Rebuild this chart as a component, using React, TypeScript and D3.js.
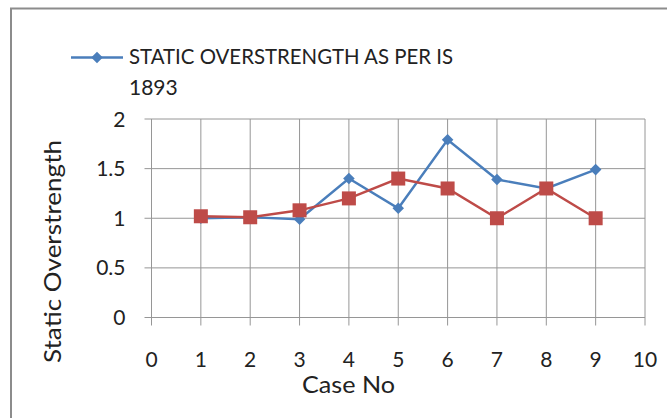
import React from "react";
import * as d3 from "d3";

const cases = [1, 2, 3, 4, 5, 6, 7, 8, 9];
const staticIS1893 = [1.0, 1.01, 0.99, 1.4, 1.1, 1.79, 1.39, 1.3, 1.49];
const secondSeries = [1.02, 1.01, 1.08, 1.2, 1.4, 1.3, 1.0, 1.3, 1.0];
const xTicks = [0, 1, 2, 3, 4, 5, 6, 7, 8, 9, 10];
const yTicks = [0, 0.5, 1, 1.5, 2];
const legendLabel = ["STATIC OVERSTRENGTH AS PER IS", "1893"];

const FONT = "Lato, 'Open Sans', sans-serif";

export default function App() {
  const W = 667, H = 418;
  const x = d3.scaleLinear().domain([0, 10]).range([151.5, 645]);
  const y = d3.scaleLinear().domain([0, 2]).range([317.5, 119]);
  const line = d3.line<number>().x((_, i) => x(cases[i])).y((d) => y(d));
  const blue = "#4a7ebb";
  const red = "#be4b48";
  const diamond = d3.symbol().type(d3.symbolDiamond2 || d3.symbolDiamond).size(85)();
  return (
    <svg width={W} height={H} style={{ position: "absolute", left: 0, top: 0 }}>
      <rect x={0} y={0} width={W} height={H} fill="white" />
      <rect x={11} y={8.5} width={700} height={450} fill="white" stroke="#8c8c8c" strokeWidth={2} />
      {/* grid */}
      {yTicks.map((t) => (
        <line key={"gy" + t} x1={x(0) - 7} x2={x(10)} y1={y(t)} y2={y(t)} stroke="#969696" strokeWidth={1} />
      ))}
      {xTicks.map((t) => (
        <line key={"gx" + t} x1={x(t)} x2={x(t)} y1={y(2)} y2={y(0) + 8} stroke="#969696" strokeWidth={1} />
      ))}
      {yTicks.map((t) => (
        <text key={"ly" + t} x={125.5} y={y(t)} dy="0.36em" textAnchor="end" fontFamily={FONT} fontSize={21} fill="#222">
          {d3.format("~g")(t)}
        </text>
      ))}
      {xTicks.map((t) => (
        <text key={"lx" + t} x={x(t)} y={359} dy="0.36em" textAnchor="middle" fontFamily={FONT} fontSize={21} fill="#222">
          {t}
        </text>
      ))}
      <text x={348.5} y={393} textAnchor="middle" fontFamily={FONT} fontSize={24} fill="#222" textLength={93} lengthAdjust="spacingAndGlyphs">
        Case No
      </text>
      <text transform={`translate(53,251.5) rotate(-90)`} dy="0.36em" textAnchor="middle" fontFamily={FONT} fontSize={23} fill="#222" textLength={223} lengthAdjust="spacingAndGlyphs">
        Static Overstrength
      </text>
      {/* series */}
      <path d={line(staticIS1893) || ""} fill="none" stroke={blue} strokeWidth={2.4} />
      <path d={line(secondSeries) || ""} fill="none" stroke={red} strokeWidth={2.4} />
      {staticIS1893.map((v, i) => (
        <path key={"b" + i} d={diamond || ""} transform={`translate(${x(cases[i])},${y(v)})`} fill={blue} />
      ))}
      {secondSeries.map((v, i) => (
        <rect key={"r" + i} x={x(cases[i]) - 7} y={y(v) - 7} width={14} height={14} fill={red} />
      ))}
      {/* legend */}
      <line x1={71} x2={123} y1={57.5} y2={57.5} stroke={blue} strokeWidth={2.4} />
      <path d={diamond || ""} transform="translate(97,57.5)" fill={blue} />
      <text x={129} y={64} fontFamily={FONT} fontSize={21} fill="#222" textLength={324} lengthAdjust="spacingAndGlyphs">
        {legendLabel[0]}
      </text>
      <text x={129} y={95} fontFamily={FONT} fontSize={21} fill="#222">
        {legendLabel[1]}
      </text>
    </svg>
  );
}
